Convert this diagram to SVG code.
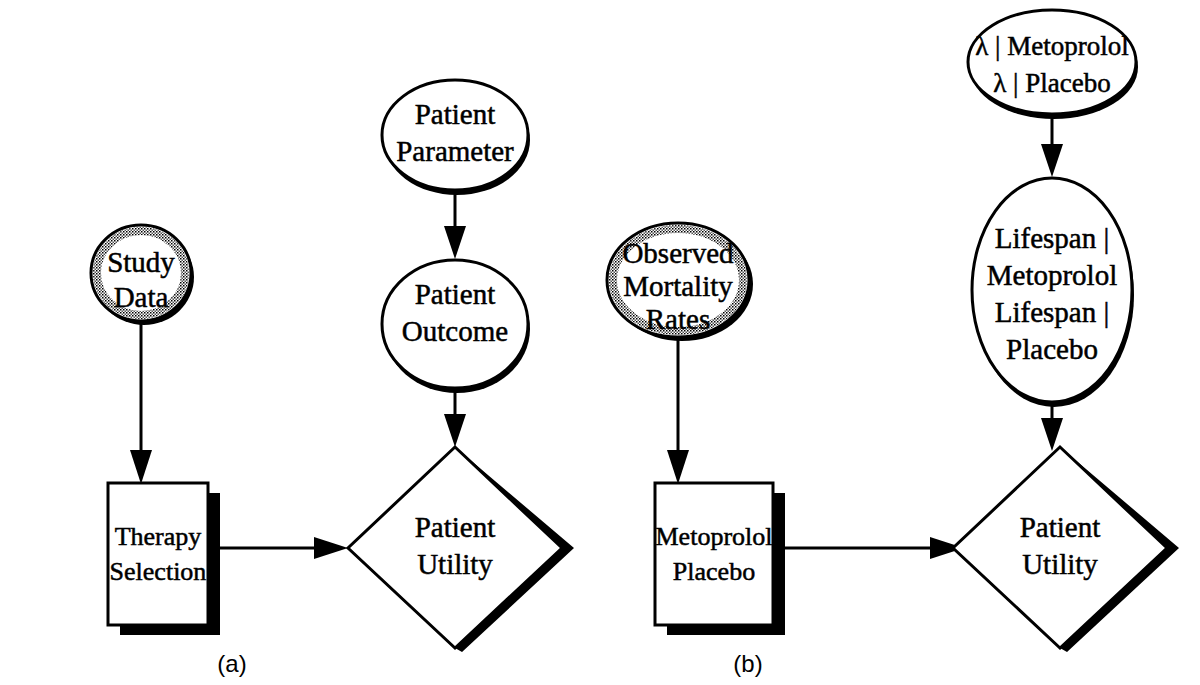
<svg xmlns="http://www.w3.org/2000/svg" width="1200" height="685" viewBox="0 0 1200 685">
<defs>
<pattern id="stip" width="3" height="3" patternUnits="userSpaceOnUse">
<rect width="3" height="3" fill="#ffffff"/>
<rect x="0" y="0" width="1.5" height="1.5" fill="#000"/>
<rect x="1.5" y="1.5" width="1.5" height="1.5" fill="#555"/>
</pattern>
</defs>
<style>
.lbl{font-family:"Liberation Serif","DejaVu Serif",serif;font-size:29px;fill:#000;stroke:#000;stroke-width:0.5;text-anchor:middle}
.sm{font-size:26px}
.md{font-size:27px}
.cap{font-family:"Liberation Sans",Arial,sans-serif;font-size:24px;fill:#000;text-anchor:middle}
.shd{fill:#000}
.wht{fill:#fff;stroke:#000;stroke-width:3}
.ring{fill:none;stroke:url(#stip);stroke-width:8}
.ln{stroke:#000;stroke-width:3;fill:none}
.hd{fill:#000}
</style>

<g id="connectors">
<line class="ln" x1="141" y1="321" x2="141" y2="452"/><polygon class="hd" points="130,450 152,450 141,484"/>
<line class="ln" x1="220" y1="548" x2="316" y2="548"/><polygon class="hd" points="314,537 314,559 348,548"/>
<line class="ln" x1="455" y1="190" x2="455" y2="228"/><polygon class="hd" points="444,226 466,226 455,259"/>
<line class="ln" x1="455" y1="390" x2="455" y2="416"/><polygon class="hd" points="444,414 466,414 455,447"/>
<line class="ln" x1="678" y1="336" x2="678" y2="452"/><polygon class="hd" points="667,450 689,450 678,484"/>
<line class="ln" x1="785" y1="548" x2="932" y2="548"/><polygon class="hd" points="930,537 930,559 964,548"/>
<line class="ln" x1="1052" y1="114" x2="1052" y2="146"/><polygon class="hd" points="1041,144 1063,144 1052,177"/>
<line class="ln" x1="1052" y1="402" x2="1052" y2="420"/><polygon class="hd" points="1041,418 1063,418 1052,451"/>
</g>

<g id="study-data">
<ellipse class="shd" cx="144" cy="277" rx="50" ry="48"/>
<ellipse class="wht" cx="141" cy="273" rx="50" ry="48"/>
<ellipse class="ring" cx="141" cy="273" rx="44" ry="42"/>
<text class="lbl" x="141" y="272">Study</text>
<text class="lbl" x="141" y="307">Data</text>
</g>

<g id="therapy-selection">
<rect class="shd" x="120" y="493" width="100" height="142"/>
<rect class="wht" x="108" y="483" width="100" height="142"/>
<text class="lbl sm" x="158" y="545">Therapy</text>
<text class="lbl sm" x="158" y="580">Selection</text>
</g>

<g id="patient-parameter">
<ellipse class="shd" cx="457" cy="140" rx="73" ry="55"/>
<ellipse class="wht" cx="455" cy="135" rx="73" ry="55"/>
<text class="lbl" x="455" y="124">Patient</text>
<text class="lbl" x="455" y="161">Parameter</text>
</g>

<g id="patient-outcome">
<ellipse class="shd" cx="457" cy="329" rx="73" ry="64"/>
<ellipse class="wht" cx="455" cy="324" rx="73" ry="64"/>
<text class="lbl" x="455" y="304">Patient</text>
<text class="lbl" x="455" y="341">Outcome</text>
</g>

<g id="patient-utility-a">
<polygon class="shd" points="455,447 574,548 462,652 455,648 562,548"/>
<polygon class="wht" points="455,447 562,548 455,648 348,548"/>
<text class="lbl" x="455" y="537">Patient</text>
<text class="lbl" x="455" y="574">Utility</text>
</g>

<g id="observed-mortality">
<ellipse class="shd" cx="682" cy="284" rx="71" ry="57"/>
<ellipse class="wht" cx="678" cy="280" rx="71" ry="57"/>
<ellipse class="ring" cx="678" cy="280" rx="65" ry="51"/>
<text class="lbl" x="678" y="263">Observed</text>
<text class="lbl" x="678" y="296">Mortality</text>
<text class="lbl" x="678" y="329">Rates</text>
</g>

<g id="metoprolol-placebo">
<rect class="shd" x="667" y="493" width="118" height="142"/>
<rect class="wht" x="655" y="483" width="118" height="142"/>
<text class="lbl sm" x="714" y="545">Metoprolol</text>
<text class="lbl sm" x="714" y="580">Placebo</text>
</g>

<g id="lambda">
<ellipse class="shd" cx="1054" cy="67" rx="84" ry="52"/>
<ellipse class="wht" cx="1052" cy="62" rx="84" ry="52"/>
<text class="lbl md" x="1052" y="55">λ | Metoprolol</text>
<text class="lbl md" x="1052" y="92">λ | Placebo</text>
</g>

<g id="lifespan">
<ellipse class="shd" cx="1054" cy="295" rx="80" ry="112"/>
<ellipse class="wht" cx="1052" cy="290" rx="80" ry="112"/>
<text class="lbl" x="1052" y="248">Lifespan |</text>
<text class="lbl" x="1052" y="285">Metoprolol</text>
<text class="lbl" x="1052" y="322">Lifespan |</text>
<text class="lbl" x="1052" y="359">Placebo</text>
</g>

<g id="patient-utility-b">
<polygon class="shd" points="1060,447 1179,548 1067,652 1060,648 1167,548"/>
<polygon class="wht" points="1060,447 1167,548 1060,648 953,548"/>
<text class="lbl" x="1060" y="537">Patient</text>
<text class="lbl" x="1060" y="574">Utility</text>
</g>

<text class="cap" x="232" y="672">(a)</text>
<text class="cap" x="748" y="672">(b)</text>
</svg>
